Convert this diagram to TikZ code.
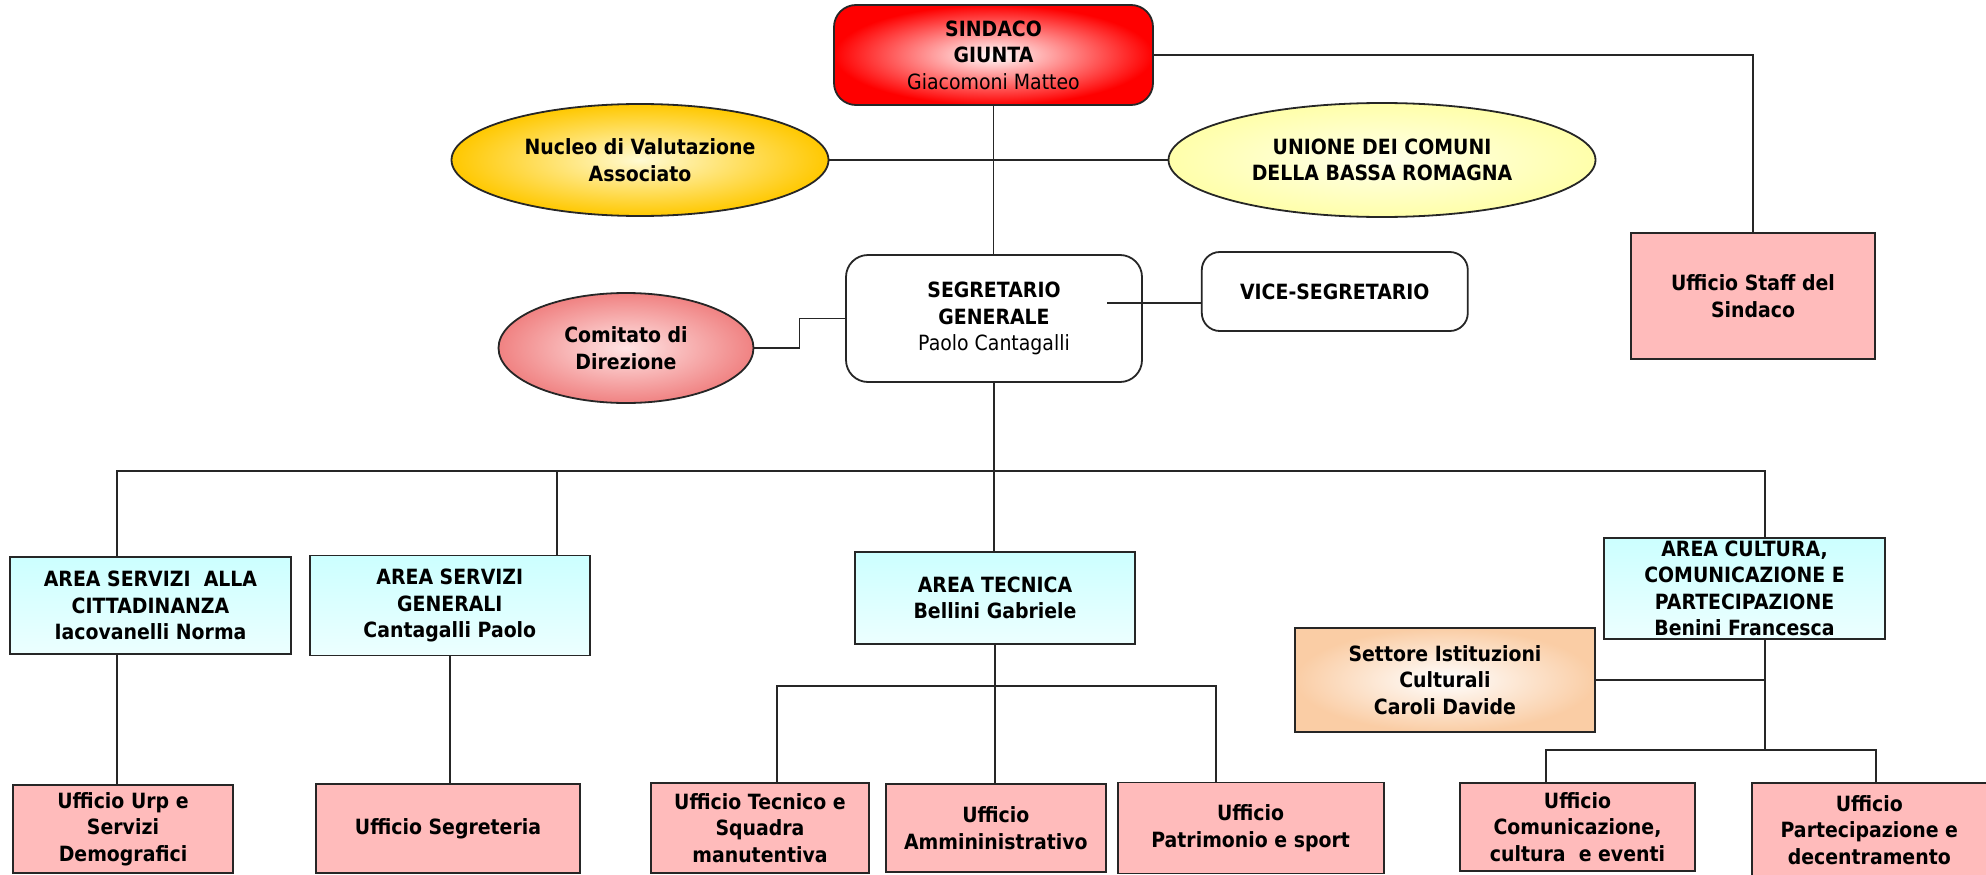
\documentclass[tikz,border=0pt]{standalone}
\usepackage{fontspec}
\setmainfont{DejaVu Sans}[FakeStretch=0.9]
\usetikzlibrary{positioning,shapes.geometric}
\definecolor{rosso}{RGB}{255,0,0}
\definecolor{oro}{RGB}{255,200,0}
\definecolor{orochiaro}{RGB}{255,250,210}
\definecolor{giallo}{RGB}{255,255,170}
\definecolor{giallochiaro}{RGB}{255,255,235}
\definecolor{salmone}{RGB}{240,130,130}
\definecolor{salmonechiaro}{RGB}{255,228,228}
\definecolor{azzurro}{RGB}{204,255,255}
\definecolor{azzurrochiaro}{RGB}{236,255,255}
\definecolor{rosa}{RGB}{255,187,187}
\definecolor{pesca}{RGB}{250,205,165}
\begin{document}
\begin{tikzpicture}[x=1pt,y=-1pt]
    \tikzset{box/.style={draw=black!85,line width=1.8pt,align=center,inner sep=2pt,
        font=\fontsize{21}{26.5}\selectfont\bfseries},capo/.style={box,rounded
        corners=22pt,fill=white},ovale/.style={box,ellipse,inner sep=0pt},area/.style={box,top
        color=azzurro,bottom color=azzurrochiaro,minimum width=280pt},ufficio/.style={box,fill=rosa,
        minimum height=89pt},link/.style={line width=1.4pt,black!85}}
    \useasboundingbox (0,0) rectangle (1986,875);

    \node[capo,shade,inner color=white,outer color=rosso,minimum width=319pt,minimum height=100pt]
      (sindaco) at (993.5,55) {SINDACO\\GIUNTA\\{\mdseries Giacomoni Matteo}};
    \node[ovale,shade,inner color=orochiaro,outer color=oro,minimum width=377pt,minimum height=112pt]
      (nucleo) at (640,160) {Nucleo di Valutazione\\Associato};
    \node[ovale,shade,inner color=giallochiaro,outer color=giallo,minimum width=427pt,minimum height=114pt]
      (unione) at (1382,160) {UNIONE DEI COMUNI\\DELLA BASSA ROMAGNA};
    \node[box,fill=rosa,minimum width=244pt,minimum height=126pt] (staff) at (1753,296)
      {Ufficio Staff del\\Sindaco};

    \node[capo,minimum width=296pt,minimum height=127pt] (segr) at (994,318.5)
      {SEGRETARIO\\GENERALE\\{\mdseries Paolo Cantagalli}};
    \node[capo,rounded corners=18pt,minimum width=266pt,minimum height=79pt] (vice)
      [right=58pt of segr,yshift=27pt] {VICE-SEGRETARIO};
    \node[ovale,shade,inner color=salmonechiaro,outer color=salmone,minimum width=255pt,minimum height=110pt]
      (comitato) at (626,348) {Comitato di\\Direzione};

    \node[area,minimum width=281pt,minimum height=97pt] (acitt) at (150.5,605.5)
      {AREA SERVIZI\ \ ALLA\\CITTADINANZA\\Iacovanelli Norma};
    \node[area,minimum height=100pt] (agen) [right=17pt of acitt]
      {AREA SERVIZI\\GENERALI\\Cantagalli Paolo};
    \node[area,minimum height=92pt] (atec) at (995,598) {AREA TECNICA\\Bellini Gabriele};
    \node[area,minimum width=281pt,minimum height=101pt] (acult) at (1744.5,588.5)
      {AREA CULTURA,\\COMUNICAZIONE E\\PARTECIPAZIONE\\Benini Francesca};
    \node[box,shade,inner color=white,outer color=pesca,minimum width=300pt,minimum height=104pt]
      (settore) at (1445,680) {Settore Istituzioni\\Culturali\\Caroli Davide};

    \node[ufficio,minimum width=220pt,minimum height=88pt] (urp) at (123,829)
      {Ufficio Urp e\\Servizi\\Demografici};
    \node[ufficio,minimum width=264pt] (segret) at (448,828.5) {Ufficio Segreteria};
    \node[ufficio,minimum width=218pt,minimum height=90pt] (utec) at (760,828)
      {Ufficio Tecnico e\\Squadra\\manutentiva};
    \node[ufficio,minimum width=220pt,minimum height=88pt] (uamm) [right=15pt of utec]
      {Ufficio\\Ammininistrativo};
    \node[ufficio,minimum width=266pt,minimum height=91pt] (upat) [right=10pt of uamm]
      {Ufficio\\Patrimonio e sport};
    \node[ufficio,minimum width=235pt,minimum height=88pt] (ucom) at (1577.5,827)
      {Ufficio\\Comunicazione,\\cultura\ \ e eventi};
    \node[ufficio,minimum width=235pt,minimum height=94pt] (upart) [right=55pt of ucom,yshift=-3pt]
      {Ufficio\\Partecipazione e\\decentramento};

    \draw[link] (sindaco) -- (sindaco |- segr.north);
    \draw[link] (nucleo) -- (unione);
    \draw[link] (sindaco) -| (staff);
    \draw[link] (comitato.east) -- ++(45,0) |- (segr.west);
    \coordinate (sv) at (1107,303);
    \draw[link] (sv) -- (sv -| vice.west);

    \coordinate (busL) at (117,471);
    \coordinate (busR) at (1765,471);
    \coordinate (ag) at (557,471);
    \draw[link] (busL |- acitt.north) -- (busL) -- (busR) -- (busR |- acult.north);
    \draw[link] (segr.south) -- (segr.south |- atec.north);
    \draw[link] (ag) -- (ag |- agen.north);

    \draw[link] (busL |- acitt.south) -- (busL |- urp.north);
    \draw[link] (agen.south) -- (agen.south |- segret.north);

    \coordinate (tL) at (777,686);
    \coordinate (tR) at (1216,686);
    \draw[link] (atec.south) -- (atec.south |- uamm.north);
    \draw[link] (tL |- utec.north) -- (tL) -- (tR) -- (tR |- upat.north);

    \coordinate (cL) at (1546,750);
    \coordinate (cR) at (1876,750);
    \draw[link] (busR |- acult.south) -- (busR |- cL);
    \draw[link] (settore.east) -- (settore.east -| busR);
    \draw[link] (cL |- ucom.north) -- (cL) -- (cR) -- (cR |- upart.north);

  \end{tikzpicture}
\end{document}
